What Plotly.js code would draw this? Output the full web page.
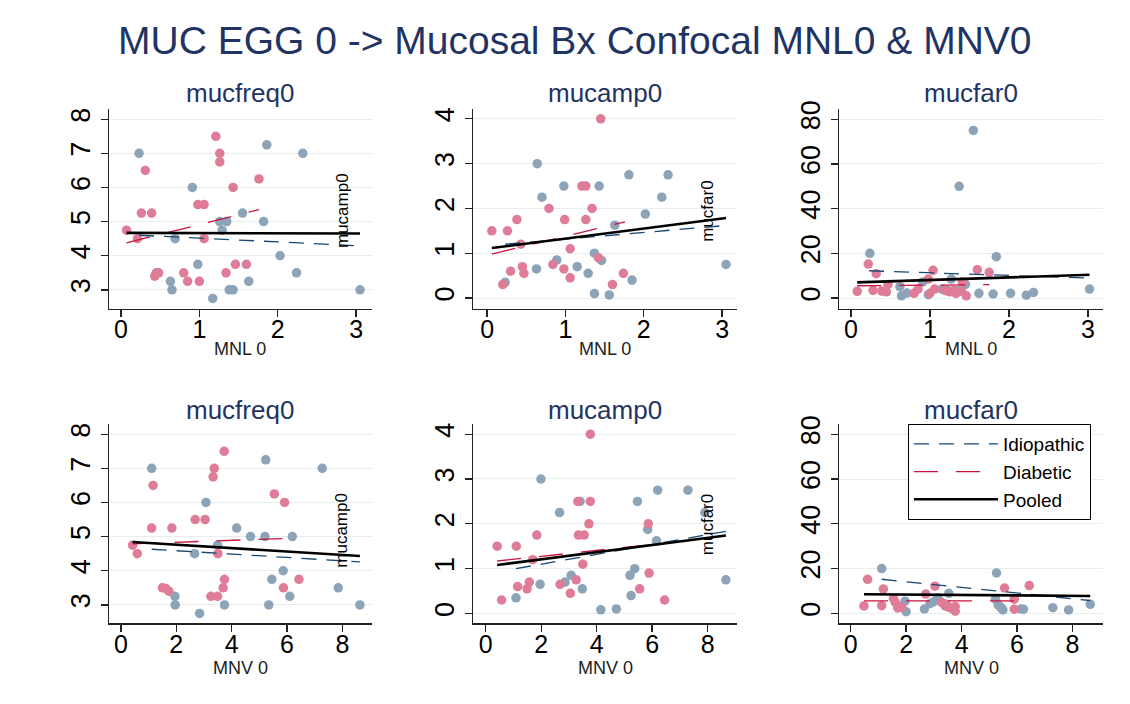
<!DOCTYPE html>
<html>
<head>
<meta charset="utf-8">
<script src="https://cdn.plot.ly/plotly-3.0.1.min.js"></script>
<style>html,body{margin:0;padding:0;background:#fff;}#chart{width:1130px;height:704px;}</style>
</head>
<body>
<div id="chart"></div>
<script>
// ---------- Data ----------
const chartTitle = "MUC EGG 0 -> Mucosal Bx Confocal MNL0 & MNV0";
const panelTitles = ["mucfreq0", "mucamp0", "mucfar0", "mucfreq0", "mucamp0", "mucfar0"];
const xTitles = ["MNL 0", "MNL 0", "MNL 0", "MNV 0", "MNV 0", "MNV 0"];
const seriesNames = ["Idiopathic", "Diabetic", "Pooled"];
const sideLabels = ["mucamp0", "mucfar0", "", "mucamp0", "mucfar0", ""];

const xTicksMNL = [0, 1, 2, 3];
const xTicksMNV = [0, 2, 4, 6, 8];
const yTicksFreq = [3, 4, 5, 6, 7, 8];
const yTicksAmp = [0, 1, 2, 3, 4];
const yTicksFar = [0, 20, 40, 60, 80];

// Panel 1: MNL0 vs mucfreq0
const idioMNLfreqX = [0.23,1.86,2.32,0.91,1.55,1.26,1.35,1.82,1.29,0.69,2.03,0.98,2.24,0.63,1.63,0.65,1.38,1.43,1.17,3.05];
const idioMNLfreqY = [7.0,7.25,7.0,6.0,5.25,5.0,5.0,5.0,4.75,4.5,4.0,3.75,3.5,3.25,3.25,3.0,3.0,3.0,2.75,3.0];
const diabMNLfreqX = [1.21,1.26,1.26,0.31,1.76,1.43,0.98,1.06,0.26,0.39,0.07,0.21,1.06,1.46,1.60,0.43,0.45,0.48,0.80,1.34,0.85,1.00];
const diabMNLfreqY = [7.5,7.0,6.75,6.5,6.25,6.0,5.5,5.5,5.25,5.25,4.75,4.5,4.5,3.75,3.75,3.4,3.5,3.5,3.5,3.5,3.25,3.25];
const fitMNLfreq = {idioX:[0.23,3.05], idioY:[4.6,4.29], diabX:[0.07,1.76], diabY:[4.38,5.35], poolX:[0.07,3.05], poolY:[4.67,4.65]};

// Panel 2: MNL0 vs mucamp0
const idioMNLampX = [0.64,0.98,1.43,1.81,2.31,0.70,2.23,2.02,1.63,1.37,1.46,0.89,1.15,1.29,0.63,0.23,1.85,1.37,1.56,3.05];
const idioMNLampY = [3.0,2.5,2.5,2.75,2.75,2.25,2.25,1.875,1.625,1.0,0.84,0.85,0.7,0.55,0.65,0.35,0.4,0.1,0.07,0.75];
const diabMNLampX = [1.45,1.21,1.26,1.34,0.79,0.38,0.99,1.26,0.06,0.26,0.43,1.06,1.42,0.84,0.45,0.98,0.30,0.47,1.74,1.06,1.60,0.20];
const diabMNLampY = [4.0,2.5,2.5,2.0,2.0,1.75,1.75,1.75,1.5,1.5,1.2,1.1,0.9,0.75,0.7,0.65,0.6,0.55,0.55,0.45,0.3,0.3];
const fitMNLamp = {idioX:[0.23,3.05], idioY:[1.2,1.62], diabX:[0.06,1.76], diabY:[0.98,1.7], poolX:[0.06,3.05], poolY:[1.115,1.785]};

// Panel 3: MNL0 vs mucfar0
const idioMNLfarX = [1.55,1.37,0.24,1.84,1.27,0.91,1.45,0.62,1.15,1.36,0.71,0.64,0.98,1.62,1.80,2.02,2.22,2.31,3.02,1.22];
const idioMNLfarY = [75,50,20,18.5,8.5,7.2,6.1,5.1,4,3.4,2.2,1.0,1.5,2.1,1.8,2.1,1.3,2.5,4.0,3.5];
const diabMNLfarX = [0.22,0.32,1.04,1.60,1.75,0.98,0.08,0.28,0.39,0.45,0.47,0.85,0.80,1.06,1.00,1.19,1.25,1.33,1.41,1.46,1.30,1.40];
const diabMNLfarY = [15.2,10.9,12.4,12.7,11.5,8.5,3.0,3.4,3.1,2.8,6.1,4.0,2.1,4.0,2.1,3.4,2.8,2.1,7.2,1.0,3.4,3.0];
const fitMNLfar = {idioX:[0.23,3.02], idioY:[12.2,8.9], diabX:[0.08,1.75], diabY:[5.5,6.0], poolX:[0.08,3.02], poolY:[7.0,10.4]};

// Panel 4: MNV0 vs mucfreq0
const idioMNVfreqX = [1.11,5.23,7.27,3.07,4.18,4.68,5.20,6.19,3.49,2.66,5.86,5.45,7.85,1.95,6.10,1.96,3.74,5.34,8.63,2.84];
const idioMNVfreqY = [7.0,7.25,7.0,6.0,5.25,5.0,5.0,5.0,4.75,4.5,4.0,3.75,3.5,3.25,3.25,3.0,3.0,3.0,3.0,2.75];
const diabMNVfreqX = [3.73,3.37,3.33,1.16,5.54,5.91,2.68,3.04,1.11,1.84,0.42,0.59,3.50,3.74,6.43,3.69,1.50,1.62,1.73,5.87,3.25,3.49];
const diabMNVfreqY = [7.5,7.0,6.75,6.5,6.25,6.0,5.5,5.5,5.25,5.25,4.75,4.5,4.5,3.75,3.75,3.5,3.5,3.48,3.4,3.5,3.25,3.25];
const fitMNVfreq = {idioX:[1.11,8.63], idioY:[4.63,4.26], diabX:[0.42,6.43], diabY:[4.79,4.96], poolX:[0.42,8.63], poolY:[4.84,4.43]};

// Panel 5: MNV0 vs mucamp0
const idioMNVampX = [1.99,6.20,7.29,5.47,2.66,5.84,6.16,5.37,5.20,3.08,2.86,1.96,3.48,5.24,1.09,4.15,4.71,8.66,7.90,3.40];
const idioMNVampY = [3.0,2.75,2.75,2.5,2.25,1.875,1.62,1.0,0.85,0.85,0.7,0.65,0.55,0.4,0.35,0.08,0.1,0.75,2.25,2.5];
const diabMNVampX = [3.77,3.32,3.77,3.72,5.86,1.84,3.34,3.55,0.41,1.10,1.69,3.50,5.89,1.57,1.15,1.49,2.68,3.26,3.05,5.55,0.57,6.45];
const diabMNVampY = [4.0,2.5,2.5,2.0,2.0,1.75,1.75,1.75,1.5,1.5,1.2,1.1,0.9,0.7,0.6,0.55,0.65,0.75,0.45,0.55,0.3,0.3];
const fitMNVamp = {idioX:[1.09,8.66], idioY:[1.0,1.83], diabX:[0.41,6.45], diabY:[1.17,1.57], poolX:[0.41,8.66], poolY:[1.08,1.74]};

// Panel 6: MNV0 vs mucfar0
const idioMNVfarX = [1.12,5.26,3.54,3.14,5.22,1.96,5.32,5.49,2.86,2.66,2.00,6.14,6.23,7.29,7.86,8.64,5.40,3.00,3.60,5.45];
const idioMNVfarY = [20,18,8.9,6.9,6.3,5.4,3.7,1.5,4.3,1.9,0.7,1.9,1.8,2.5,1.5,4.0,2.8,5.2,2.5,2.2];
const diabMNVfarX = [0.61,1.18,3.04,6.44,5.55,2.71,0.48,1.12,1.54,1.60,1.70,1.84,1.70,3.29,3.41,3.53,3.65,3.77,3.77,5.90,5.90,3.45];
const diabMNVfarY = [15.2,10.9,12.1,12.4,11.3,8.6,3.3,3.4,6.6,5.1,3.3,2.7,2.4,4.8,3.3,2.7,2.2,3.0,0.9,6.3,1.8,4.0];
const fitMNVfar = {idioX:[1.12,8.64], idioY:[15.2,5.7], diabX:[0.48,6.44], diabY:[5.5,5.5], poolX:[0.48,8.64], poolY:[8.5,7.75]};

// ---------- Styling ----------
const FONT = "Liberation Sans, Arial, Helvetica, sans-serif";
const NAVY = "#1f3462";
const IDIO_MK = "#8ca3b8";
const DIAB_MK = "#df7c97";
const IDIO_LN = "#1a476f";
const DIAB_LN = "#c8143c";

const panels = [
  {ix:idioMNLfreqX, iy:idioMNLfreqY, dx:diabMNLfreqX, dy:diabMNLfreqY, fit:fitMNLfreq, xr:[-0.153,3.2], yr:[2.44,8.3], xt:xTicksMNL, yt:yTicksFreq},
  {ix:idioMNLampX, iy:idioMNLampY, dx:diabMNLampX, dy:diabMNLampY, fit:fitMNLamp, xr:[-0.18,3.19], yr:[-0.245,4.22], xt:xTicksMNL, yt:yTicksAmp},
  {ix:idioMNLfarX, iy:idioMNLfarY, dx:diabMNLfarX, dy:diabMNLfarY, fit:fitMNLfar, xr:[-0.15,3.19], yr:[-4.9,84.6], xt:xTicksMNL, yt:yTicksFar},
  {ix:idioMNVfreqX, iy:idioMNVfreqY, dx:diabMNVfreqX, dy:diabMNVfreqY, fit:fitMNVfreq, xr:[-0.43,9.06], yr:[2.46,8.29], xt:xTicksMNV, yt:yTicksFreq},
  {ix:idioMNVampX, iy:idioMNVampY, dx:diabMNVampX, dy:diabMNVampY, fit:fitMNVamp, xr:[-0.46,9.06], yr:[-0.22,4.22], xt:xTicksMNV, yt:yTicksAmp},
  {ix:idioMNVfarX, iy:idioMNVfarY, dx:diabMNVfarX, dy:diabMNVfarY, fit:fitMNVfar, xr:[-0.42,9.1], yr:[-4.5,84.5], xt:xTicksMNV, yt:yTicksFar}
];
const xDomains = [[0.0965,0.329],[0.4186,0.6522],[0.7425,0.9761]];
const yDomains = [[0.5611,0.8452],[0.1146,0.3973]];
const sidePos = [[2.82,5.34],[2.81,1.93],null,[7.97,5.19],[7.98,1.97],null];

const traces = [];
const layout = {
  width:1130, height:704,
  margin:{l:0,r:0,t:0,b:0},
  paper_bgcolor:"#ffffff", plot_bgcolor:"#ffffff",
  font:{family:FONT, color:"#000"},
  showlegend:true,
  legend:{x:0.8035, y:0.3977, xanchor:"left", yanchor:"top", bgcolor:"#ffffff", bordercolor:"#000", borderwidth:1,
          font:{family:FONT, size:19, color:"#000"}, itemwidth:84, traceorder:"normal"},
  annotations:[], shapes:[]
};

panels.forEach((p, i) => {
  const sfx = i === 0 ? "" : String(i + 1);
  const xa = "x" + sfx, ya = "y" + sfx;
  traces.push({type:"scatter", mode:"markers", x:p.ix, y:p.iy, xaxis:xa, yaxis:ya, showlegend:false,
    marker:{color:IDIO_MK, size:9.5, line:{width:0}}, hoverinfo:"skip"});
  traces.push({type:"scatter", mode:"markers", x:p.dx, y:p.dy, xaxis:xa, yaxis:ya, showlegend:false,
    marker:{color:DIAB_MK, size:9.5, line:{width:0}}, hoverinfo:"skip"});
  const leg = i === 0;
  traces.push({type:"scatter", mode:"lines", x:p.fit.idioX, y:p.fit.idioY, xaxis:xa, yaxis:ya, name:seriesNames[0], showlegend:leg,
    line:{color:IDIO_LN, width:1.3, dash:"15px,10px"}});
  traces.push({type:"scatter", mode:"lines", x:p.fit.diabX, y:p.fit.diabY, xaxis:xa, yaxis:ya, name:seriesNames[1], showlegend:leg,
    line:{color:DIAB_LN, width:1.3, dash:"24px,18px"}});
  traces.push({type:"scatter", mode:"lines", x:p.fit.poolX, y:p.fit.poolY, xaxis:xa, yaxis:ya, name:seriesNames[2], showlegend:leg,
    line:{color:"#000000", width:2.6}});

  const col = i % 3, row = Math.floor(i / 3);
  layout["xaxis" + sfx] = {
    domain:xDomains[col], anchor:ya, range:p.xr, tickvals:p.xt, ticktext:p.xt.map(String),
    showgrid:false, zeroline:false, showline:true, linecolor:"#222", linewidth:1.3,
    ticks:"outside", ticklen:7, tickwidth:1.3, tickcolor:"#222", ticklabelstandoff:-9,
    tickfont:{family:FONT, size:25, color:"#000"}, fixedrange:true
  };
  layout["yaxis" + sfx] = {
    domain:yDomains[row], anchor:xa, range:p.yr, tickvals:p.yt, ticktext:p.yt.map(String),
    showgrid:true, gridcolor:"#e6eeee", gridwidth:1, zeroline:false, showline:true, linecolor:"#222", linewidth:1.3,
    ticks:"outside", ticklen:7, tickwidth:1.3, tickcolor:"#222", tickangle:-90,
    tickfont:{family:FONT, size:27, color:"#000"}, fixedrange:true
  };
  const cx = (xDomains[col][0] + xDomains[col][1]) / 2;
  layout.annotations.push({text:panelTitles[i], xref:"paper", yref:"paper", x:cx, y:row === 0 ? 0.8679 : 0.4176,
    xanchor:"center", yanchor:"middle", showarrow:false, font:{family:FONT, size:26, color:NAVY}});
  layout.annotations.push({text:xTitles[i], xref:"paper", yref:"paper", x:cx, y:row === 0 ? 0.5043 : 0.0511,
    xanchor:"center", yanchor:"middle", showarrow:false, font:{family:FONT, size:18, color:"#222"}});
  if (sidePos[i]) {
    layout.annotations.push({text:sideLabels[i], xref:xa, yref:ya, x:sidePos[i][0], y:sidePos[i][1],
      xanchor:"center", yanchor:"middle", textangle:-90, showarrow:false, font:{family:FONT, size:17, color:"#000"}});
  }
});

layout.annotations.push({text:chartTitle, xref:"paper", yref:"paper", x:0.509, y:0.9418, xanchor:"center", yanchor:"middle",
  showarrow:false, font:{family:FONT, size:39, color:NAVY}});

Plotly.newPlot("chart", traces, layout, {displayModeBar:false, staticPlot:true});
</script>
</body>
</html>
